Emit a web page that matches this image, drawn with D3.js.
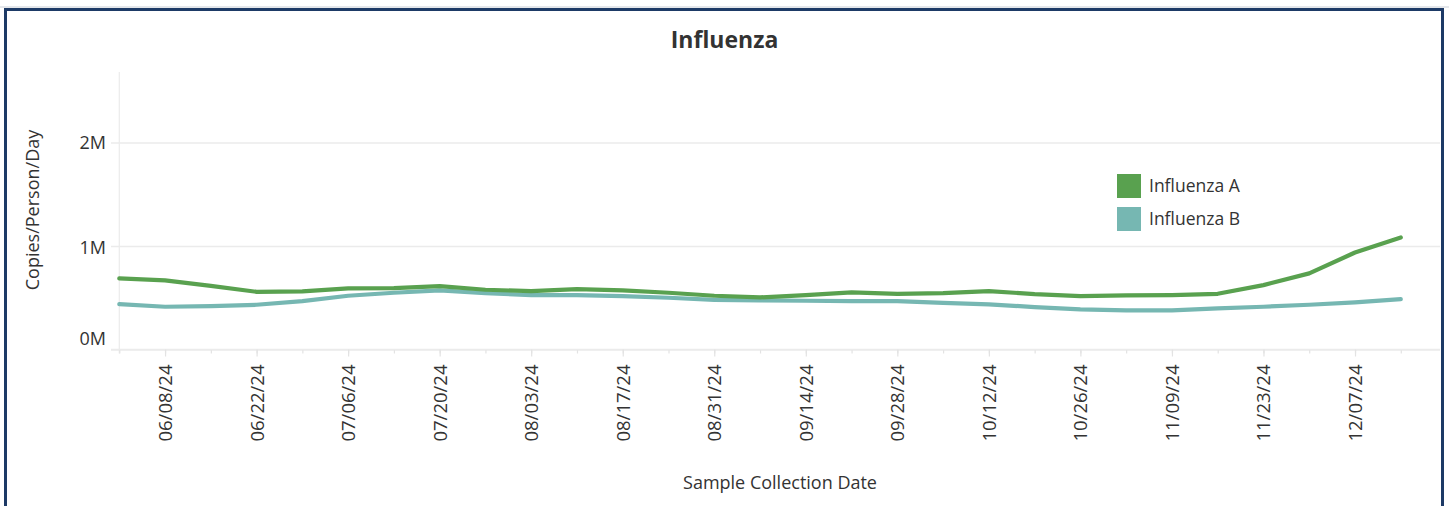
<!DOCTYPE html>
<html>
<head>
<meta charset="utf-8">
<script src="https://cdn.jsdelivr.net/npm/d3@7"></script>
<style>
  html, body { margin: 0; padding: 0; background: #fff; }
  svg { display: block; font-family: "Open Sans", "Noto Sans", sans-serif; }
</style>
</head>
<body>
<svg id="chart" width="1449" height="506"></svg>
<script>
// ---- data ----
const dates = [
  "2024-06-01","2024-06-08","2024-06-15","2024-06-22","2024-06-29",
  "2024-07-06","2024-07-13","2024-07-20","2024-07-27","2024-08-03",
  "2024-08-10","2024-08-17","2024-08-24","2024-08-31","2024-09-07",
  "2024-09-14","2024-09-21","2024-09-28","2024-10-05","2024-10-12",
  "2024-10-19","2024-10-26","2024-11-02","2024-11-09","2024-11-16",
  "2024-11-23","2024-11-30","2024-12-07","2024-12-14"
];
const fluA = [
  687000, 667000, 615000, 557000, 561000,
  590000, 593000, 612000, 577000, 564000,
  583000, 571000, 548000, 519000, 503000,
  526000, 552000, 538000, 545000, 564000,
  535000, 516000, 523000, 526000, 538000,
  622000, 735000, 937000, 1082000
];
const fluB = [
  439000, 413000, 419000, 432000, 468000,
  519000, 548000, 571000, 545000, 526000,
  526000, 516000, 500000, 480000, 474000,
  471000, 468000, 468000, 451000, 436000,
  410000, 388000, 378000, 378000, 397000,
  413000, 432000, 455000, 487000
];
const seriesNames = ["Influenza A", "Influenza B"];
const seriesColors = ["#59a14f", "#76b7b2"];
const yTickValues = [0, 1000000, 2000000];
const yTickLabels = ["0M", "1M", "2M"];
const xTickDates = [
  "2024-06-01","2024-06-08","2024-06-15","2024-06-22","2024-06-29",
  "2024-07-06","2024-07-13","2024-07-20","2024-07-27","2024-08-03",
  "2024-08-10","2024-08-17","2024-08-24","2024-08-31","2024-09-07",
  "2024-09-14","2024-09-21","2024-09-28","2024-10-05","2024-10-12",
  "2024-10-19","2024-10-26","2024-11-02","2024-11-09","2024-11-16",
  "2024-11-23","2024-11-30","2024-12-07","2024-12-14"
];
const xLabelDates = [
  "2024-06-08","2024-06-22","2024-07-06","2024-07-20","2024-08-03",
  "2024-08-17","2024-08-31","2024-09-14","2024-09-28","2024-10-12",
  "2024-10-26","2024-11-09","2024-11-23","2024-12-07"
];
const xDomain = ["2024-06-01", "2024-12-20"];
const yMax = 2680000;

// ---- layout ----
const svg = d3.select("#chart");
const parse = d3.utcParse("%Y-%m-%d");
const plotL = 119.3, plotR = 1440, plotT = 72, plotB = 349.5;
const textColor = "#333333";
const gridColor = "#ebebeb";
const fontFam = "Open Sans, Noto Sans, sans-serif";

// frame
svg.append("rect").attr("x", 0).attr("y", 0).attr("width", 1449).attr("height", 506).attr("fill", "#fff");
svg.append("line").attr("x1", 0).attr("x2", 1449).attr("y1", 7).attr("y2", 7).attr("stroke", "#c9ced6").attr("stroke-width", 1);
svg.append("path")
  .attr("d", "M5.5,506 V9.5 H1442.5 V506")
  .attr("fill", "none").attr("stroke", "#1d3a66").attr("stroke-width", 3);

const x = d3.scaleUtc().domain(xDomain.map(parse)).range([plotL, plotR]);
const y = d3.scaleLinear().domain([0, yMax]).range([plotB, plotT]);

// gridlines + y labels
const yAxis = d3.axisLeft(y).tickValues(yTickValues).tickSize(0).tickFormat((d, i) => yTickLabels[i]).tickPadding(5);
const gy = svg.append("g").attr("transform", `translate(111,0)`).call(yAxis);
gy.select(".domain").remove();
gy.selectAll(".tick line").attr("stroke", gridColor).attr("stroke-width", 1.5)
  .attr("x1", 0).attr("x2", plotR - 111);
gy.selectAll(".tick text").attr("fill", textColor).attr("font-size", 18)
  .attr("x", -5).attr("font-family", fontFam)
  .attr("y", (d) => d === 0 ? -11 : (d === 1000000 ? 2 : 0));

// y axis vertical line
svg.append("line").attr("x1", plotL).attr("x2", plotL).attr("y1", plotT).attr("y2", plotB + 4)
  .attr("stroke", gridColor).attr("stroke-width", 1.2);

// x axis minor ticks
const xMinor = d3.axisBottom(x).tickValues(xTickDates.map(parse)).tickSize(4).tickFormat("");
const gx = svg.append("g").attr("transform", `translate(0,${plotB})`).call(xMinor);
gx.select(".domain").remove();
gx.selectAll(".tick line").attr("stroke", "#e3e3e3").attr("stroke-width", 1.2);
svg.append("line").attr("x1", 111).attr("x2", plotR).attr("y1", plotB).attr("y2", plotB)
  .attr("stroke", gridColor).attr("stroke-width", 1.5);

// x axis labelled ticks
const fmt = d3.utcFormat("%m/%d/%y");
const xMajor = d3.axisBottom(x).tickValues(xLabelDates.map(parse)).tickSize(7).tickFormat(fmt);
const gx2 = svg.append("g").attr("transform", `translate(0,${plotB})`).call(xMajor);
gx2.select(".domain").remove();
gx2.selectAll(".tick line").attr("stroke", "#e3e3e3").attr("stroke-width", 1.2);
gx2.selectAll(".tick text")
  .attr("fill", textColor).attr("font-size", 18.5)
  .attr("font-family", fontFam)
  .attr("text-anchor", "end")
  .attr("transform", "translate(0,15) rotate(-90)")
  .attr("x", 0).attr("y", 0).attr("dy", "0.35em");

// lines
const series = [fluA, fluB];
const line = d3.line().x((d, i) => x(parse(dates[i]))).y(d => y(d)).curve(d3.curveLinear);
[1, 0].forEach(s => {
  svg.append("path").datum(series[s])
    .attr("d", line)
    .attr("fill", "none")
    .attr("stroke", seriesColors[s])
    .attr("stroke-width", 4.2)
    .attr("stroke-linejoin", "round")
    .attr("stroke-linecap", "round");
});

// title
svg.append("text").attr("x", 724.5).attr("y", 48).attr("text-anchor", "middle")
  .attr("font-size", 23).attr("font-weight", "bold").attr("fill", textColor)
  .text("Influenza");

// axis titles
svg.append("text").attr("transform", "translate(39,210) rotate(-90)")
  .attr("text-anchor", "middle").attr("font-size", 18).attr("fill", textColor)
  .text("Copies/Person/Day");
svg.append("text").attr("x", 780).attr("y", 489).attr("text-anchor", "middle")
  .attr("font-size", 18).attr("fill", textColor)
  .text("Sample Collection Date");

// legend
const lg = svg.append("g").attr("transform", "translate(1117,174)");
seriesNames.forEach((name, i) => {
  const g = lg.append("g").attr("transform", `translate(0,${i * 33})`);
  g.append("rect").attr("width", 24).attr("height", 24).attr("fill", seriesColors[i]);
  g.append("text").attr("x", 32).attr("y", 12).attr("dy", "0.35em")
    .attr("font-size", 17.5).attr("fill", textColor).text(name);
});
</script>
</body>
</html>
